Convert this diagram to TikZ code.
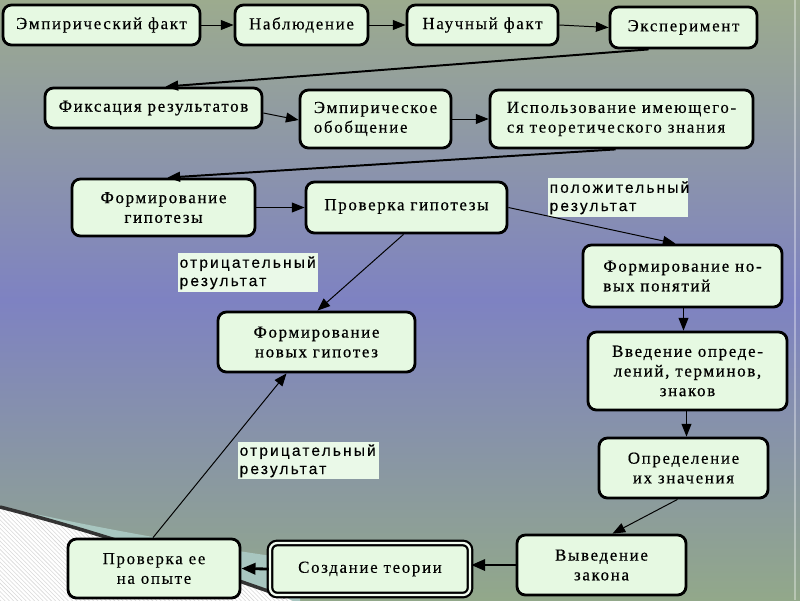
\documentclass[tikz,border=0pt]{standalone}
\usepackage{fontspec}
\setmainfont{Liberation Serif}
\newfontfamily\boxfont[LetterSpace=10,FakeBold=0.25]{Liberation Serif}
\newfontfamily\boxfontb[LetterSpace=10,FakeBold=0.7]{Liberation Serif}
\newfontfamily\lblfont[LetterSpace=14,FakeBold=0.2]{Liberation Sans}
\usetikzlibrary{arrows.meta,patterns,calc}
\definecolor{bgtop}{RGB}{156,171,142}
\definecolor{bgmid}{RGB}{126,130,194}
\definecolor{bgbot}{RGB}{146,168,138}
\definecolor{boxfill}{RGB}{230,249,226}
\definecolor{lblfill}{RGB}{234,249,232}
\definecolor{tealband}{RGB}{168,198,192}
\newcommand\bx[7][]{\node[box,#1,minimum width={(#5-#3)*0.025cm},minimum height={(#6-#4)*0.025cm}] (#2) at ({(#3+#5)/2},{(#4+#6)/2}) {#7};}
\newcommand\lb[6]{\node[lbl,text width={(#4-#2)*0.025cm-2pt},minimum height={(#5-#3)*0.025cm}] (#1) at (#2,#3) {#6};}
\newlength\myfirstline
\begin{document}
\begin{tikzpicture}[x=0.025cm,y=-0.025cm,
  box/.style={draw=black,line width=2pt,rounded corners=6pt,fill=boxfill,inner sep=0pt,
    font=\boxfont\fontsize{12}{14}\selectfont,align=center},
  bbox/.style={font=\boxfontb\fontsize{12}{14}\selectfont},
  lbl/.style={fill=lblfill,inner sep=1pt,anchor=north west,
    font=\lblfont\fontsize{11}{13}\selectfont,align=left},
  arr/.style={-{Triangle[length=9pt,width=7pt]},line width=0.7pt},
  arrthick/.style={-{Triangle[length=9pt,width=7pt]},line width=1.4pt},
  arrheavy/.style={-{Triangle[length=10pt,width=8pt]},line width=2pt}]
\useasboundingbox (0,0) rectangle (800,600);
\shade[top color=bgtop,bottom color=bgbot,middle color=bgmid] (0,0) rectangle (800,600);
\draw[white,opacity=0.35,line width=1pt] (795,0) -- (795,600);
% decoration bottom left
\fill[tealband] (40,515) .. controls (120,532) and (200,546) .. (300,560) -- (300,605) -- (285,597) .. controls (180,560) and (90,530) .. (0,507) -- cycle;
\fill[white] (0,507) .. controls (90,530) and (180,560) .. (285,597) -- (300,605) -- (0,605) -- cycle;
\fill[pattern=north west lines,pattern color=gray!30] (0,507) .. controls (90,530) and (180,560) .. (285,597) -- (300,605) -- (0,605) -- cycle;
\draw[black!80,line width=2.5pt] (0,507) .. controls (90,530) and (180,560) .. (285,597);
% boxes
\bx{b1}{3}{5}{200}{45}{Эмпирический факт}
\bx{b2}{235}{5}{368}{45}{Наблюдение}
\bx{b3}{407}{5}{558}{45}{Научный факт}
\bx{b4}{610}{7}{757}{48}{Эксперимент}
\bx[bbox]{b5}{45}{88}{262}{128}{Фиксация результатов}
\bx[align=left]{b6}{300}{90}{451}{148}{Эмпирическое\\обобщение}
\bx[align=left]{b7}{490}{90}{753}{148}{Использование имеющего-\\ся теоретического знания}
\bx[bbox]{b8}{72}{179}{255}{236}{Формирование\\гипотезы}
\bx[bbox]{b9}{306}{182}{507}{233}{\raisebox{4pt}{Проверка гипотезы}}
\bx[bbox]{b10}{583}{245}{782}{307}{\settowidth{\myfirstline}{Формирование но-}\parbox{\myfirstline}{\raggedright Формирование но-\par вых понятий}}
\bx[bbox]{b11}{218}{312}{415}{372}{Формирование\\новых гипотез}
\bx[bbox]{b12}{588}{332}{787}{410}{Введение опреде-\\лений, терминов,\\знаков}
\bx{b13}{599}{438}{768}{498}{Определение\\их значения}
\bx[bbox]{b14}{517}{535}{686}{595}{Выведение\\закона}
\bx[double=boxfill!50!white,double distance=1.6pt,line width=1.6pt,rounded corners=5pt]{b15}{270}{543}{470}{595}{Создание теории}
\bx{b16}{68}{539}{240}{598}{Проверка ее\\на опыте}
% labels
\lb{l1}{548}{178}{688}{217}{положительный\\результат}
\lb{l2}{178}{253}{318}{292}{отрицательный\\результат}
\lb{l3}{238}{442}{379}{479}{отрицательный\\результат}
% connectors
\draw[arr] (b1.east) -- (b2.west);
\draw[arr] (b2.east) -- (b3.west);
\draw[arr] (b3.east) -- (b4.west);
\draw[arrthick] ($(b4.south west)+(40,0)$) -- ($(b5.north)+(12,0)$);
\draw[arr] ($(b5.east)+(0,5)$) -- ($(b6.west)+(0,1)$);
\draw[arr] (b6.east) -- (b7.west);
\draw[arrthick] ($(b7.south)+(-6,0)$) -- ($(b8.north)+(4,0)$);
\draw[arr] (b8.east) -- (b9.west);
\draw[arr] (b9.east) -- ($(b10.north)+(-7,0)$);
\draw[arr] ($(b9.south)+(-3,0)$) -- ($(b11.north)+(1,0)$);
\draw[arr] ($(b10.south)+(1,0)$) -- ($(b10.south |- b12.north)+(1,0)$);
\draw[arr] ($(b12.south)+(-1,0)$) -- ($(b12.south |- b13.north)+(-1,0)$);
\draw[arr] ($(b13.south)+(-6,0)$) -- ($(b14.north)+(11,0)$);
\draw[arrheavy] (b14.west) -- (b14.west -| b15.east);
\draw[arrheavy] (b15.west) -- (b16.east);
\draw[arr] ($(b16.north)+(-1,0)$) -- ($(b11.south)+(-30,0)$);
\end{tikzpicture}
\end{document}
